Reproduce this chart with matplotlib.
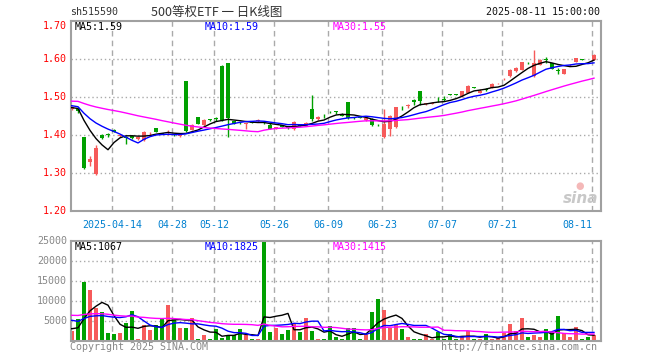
import numpy as np
import matplotlib
matplotlib.use("Agg")
import matplotlib.pyplot as plt

# ---------------- data ----------------
open_ = [1.468, 1.468, 1.395, 1.328, 1.298, 1.400, 1.402, 1.414, 1.397, 1.396,
         1.397, 1.389, 1.386, 1.404, 1.418, 1.404, 1.404, 1.401, 1.398, 1.543,
         1.414, 1.448, 1.426, 1.441, 1.444, 1.582, 1.589, 1.437, 1.432, 1.430,
         1.437, 1.436, 1.432, 1.427, 1.416, 1.425, 1.423, 1.417, 1.429, 1.425,
         1.468, 1.442, 1.451, 1.463, 1.462, 1.456, 1.486, 1.446, 1.447, 1.440,
         1.443, 1.427, 1.395, 1.417, 1.421, 1.472, 1.476, 1.493, 1.517, 1.481,
         1.482, 1.490, 1.494, 1.507, 1.507, 1.502, 1.511, 1.526, 1.511, 1.520,
         1.525, 1.534, 1.547, 1.554, 1.569, 1.572, 1.590, 1.556, 1.585, 1.599,
         1.589, 1.570, 1.561, 1.583, 1.593, 1.599, 1.592, 1.598]
high = [1.476, 1.472, 1.396, 1.346, 1.374, 1.403, 1.405, 1.416, 1.400, 1.398,
        1.401, 1.396, 1.410, 1.409, 1.419, 1.405, 1.412, 1.402, 1.402, 1.543,
        1.428, 1.448, 1.442, 1.442, 1.447, 1.583, 1.590, 1.438, 1.433, 1.431,
        1.438, 1.442, 1.434, 1.433, 1.421, 1.426, 1.424, 1.436, 1.430, 1.433,
        1.506, 1.450, 1.454, 1.463, 1.462, 1.457, 1.486, 1.447, 1.448, 1.447,
        1.444, 1.428, 1.469, 1.452, 1.475, 1.477, 1.482, 1.494, 1.517, 1.485,
        1.486, 1.500, 1.502, 1.508, 1.508, 1.516, 1.531, 1.527, 1.522, 1.523,
        1.536, 1.536, 1.549, 1.573, 1.578, 1.592, 1.591, 1.625, 1.600, 1.604,
        1.590, 1.576, 1.575, 1.586, 1.603, 1.600, 1.593, 1.614]
low = [1.466, 1.458, 1.310, 1.318, 1.296, 1.389, 1.396, 1.407, 1.396, 1.377,
       1.389, 1.388, 1.384, 1.400, 1.407, 1.402, 1.400, 1.398, 1.396, 1.408,
       1.412, 1.429, 1.424, 1.438, 1.438, 1.438, 1.395, 1.428, 1.428, 1.416,
       1.431, 1.435, 1.429, 1.416, 1.415, 1.420, 1.416, 1.414, 1.424, 1.424,
       1.436, 1.440, 1.446, 1.459, 1.456, 1.450, 1.443, 1.443, 1.444, 1.438,
       1.424, 1.424, 1.392, 1.397, 1.419, 1.465, 1.471, 1.480, 1.480, 1.479,
       1.481, 1.487, 1.490, 1.504, 1.504, 1.500, 1.510, 1.524, 1.510, 1.515,
       1.524, 1.533, 1.545, 1.552, 1.567, 1.571, 1.588, 1.552, 1.584, 1.590,
       1.574, 1.561, 1.560, 1.582, 1.592, 1.597, 1.590, 1.597]
close = [1.474, 1.464, 1.313, 1.337, 1.365, 1.391, 1.400, 1.408, 1.399, 1.391,
         1.392, 1.395, 1.409, 1.406, 1.409, 1.403, 1.407, 1.399, 1.401, 1.410,
         1.426, 1.430, 1.439, 1.440, 1.442, 1.440, 1.445, 1.430, 1.431, 1.431,
         1.432, 1.440, 1.431, 1.417, 1.420, 1.421, 1.418, 1.435, 1.425, 1.432,
         1.442, 1.448, 1.450, 1.462, 1.461, 1.451, 1.444, 1.445, 1.446, 1.446,
         1.427, 1.426, 1.430, 1.451, 1.474, 1.470, 1.478, 1.487, 1.490, 1.483,
         1.484, 1.489, 1.493, 1.506, 1.506, 1.515, 1.528, 1.525, 1.517, 1.519,
         1.535, 1.535, 1.548, 1.572, 1.576, 1.591, 1.589, 1.589, 1.598, 1.598,
         1.574, 1.569, 1.574, 1.585, 1.602, 1.598, 1.591, 1.610]
volume = [2340, 5350, 14630, 12620, 8190, 7100, 1840, 1590, 1840, 4350,
          7360, 330, 4010, 2590, 3850, 5600, 8860, 5100, 3090, 3090,
          5600, 330, 1420, 330, 2840, 670, 1340, 1500, 2840, 1500,
          330, 330, 24750, 2090, 3090, 1590, 2590, 4350, 2090, 5600,
          2340, 330, 330, 3590, 920, 330, 3090, 3090, 330, 1590,
          7100, 10370, 7600, 3090, 3850, 2930, 920, 330, 330, 1670,
          330, 2090, 330, 1590, 330, 1090, 2340, 330, 330, 1590,
          330, 670, 1920, 4100, 2340, 5600, 920, 1340, 920, 2840,
          2090, 6100, 1920, 920, 3340, 330, 920, 1340]
# closes / volumes of the 29 sessions before the window (for the moving averages)
prev_close = [1.478, 1.482, 1.487, 1.490, 1.494, 1.497, 1.492, 1.488, 1.495, 1.500,
              1.505, 1.503, 1.498, 1.502, 1.506, 1.500, 1.495, 1.492, 1.497, 1.499,
              1.490, 1.485, 1.480, 1.478, 1.477, 1.475, 1.470, 1.468, 1.473]
prev_volume = [6500, 7200, 8100, 6800, 7400, 6200, 7900, 6600, 7100, 6900,
               7600, 6400, 7300, 6700, 7000, 6800, 7500, 6300, 6900, 6300,
               8000, 7600, 7200, 6800, 6400, 4200, 3300, 2800, 2360]
tick_index = [7, 17, 24, 34, 43, 52, 62, 72, 87]
tick_labels = ["2025-04-14", "04-28", "05-12", "05-26", "06-09", "06-23",
               "07-07", "07-21", "08-11"]
price_ticks = [1.70, 1.60, 1.50, 1.40, 1.30, 1.20]
volume_ticks = [25000, 20000, 15000, 10000, 5000]
ma_periods = [5, 10, 30]
price_ma_text = ["MA5:1.59", "MA10:1.59", "MA30:1.55"]
volume_ma_text = ["MA5:1067", "MA10:1825", "MA30:1415"]

# ---------------- style ----------------
RED = '#F65A5A'
GREEN = '#00A000'
MA_COLORS = ['#000000', '#0000FF', '#FF00FF']
GRID = '#AAAAAA'
FRAME = '#A0A0A0'
MONO = 'DejaVu Sans Mono'
FS = 7.2

W, H = 660, 360
fig = plt.figure(figsize=(6.6, 3.6), dpi=100)
fig.patch.set_facecolor('white')


def fx(px):
    return px / W


def fy(py):
    return 1 - py / H


L, R = 70.5, 600.5
PT, PB = 21.0, 211.0
VT, VB = 240.7, 340.7
ax = fig.add_axes([fx(L), fy(PB), (R - L) / W, (PB - PT) / H])
axv = fig.add_axes([fx(L), fy(VB), (R - L) / W, (VB - VT) / H])

o = np.array(open_)
h = np.array(high)
l = np.array(low)
c = np.array(close)
v = np.array(volume, dtype=float)
n = len(c)
x = np.arange(n)
cols = [RED if cc >= oo else GREEN for oo, cc in zip(o, c)]

xmin, xmax = (L - 72) / 6.0, (R - 72) / 6.0
for a in (ax, axv):
    a.set_xlim(xmin, xmax)
    a.set_xticks([])
    a.set_yticks([])
    for s in a.spines.values():
        s.set_color(FRAME)
        s.set_linewidth(1.5)
    for t in tick_index:
        a.axvline(t - 0.3, color=GRID, lw=1, ls=(0, (4, 3)), zorder=0)

ax.set_ylim(1.20, 1.70)
for p in price_ticks[1:-1]:
    ax.axhline(p, color=GRID, lw=1, ls=(0, (1, 2)), zorder=0)
axv.set_ylim(0, 25000)
for vt in volume_ticks[1:]:
    axv.axhline(vt, color=GRID, lw=1, ls=(0, (1, 2)), zorder=0)

# candles
ax.vlines(x, l, h, colors=cols, lw=1, zorder=2)
ax.bar(x, np.maximum(np.abs(c - o), 0.0013), bottom=np.minimum(o, c),
       width=0.68, color=cols, linewidth=0, zorder=3)

# moving averages
allc = np.concatenate([prev_close, c])
allv = np.concatenate([prev_volume, v])
k0 = len(prev_close)
for per, col in zip(ma_periods, MA_COLORS):
    mac = np.array([allc[k0 + i - per + 1:k0 + i + 1].mean() for i in range(n)])
    mav = np.array([allv[k0 + i - per + 1:k0 + i + 1].mean() for i in range(n)])
    xs = np.concatenate([[xmin], x])
    ax.plot(xs, np.concatenate([[mac[0]], mac]), color=col, lw=1, zorder=4)
    axv.plot(xs, np.concatenate([[mav[0]], mav]), color=col, lw=1, zorder=4)

# volume bars
axv.bar(x, v, width=0.82, color=cols, linewidth=0, zorder=2)

# ---------------- text ----------------
tk = dict(family=MONO, fontsize=FS)
fig.text(fx(70), fy(12), "sh515590", color='#333333', va='center', **tk)
fig.text(fx(151), fy(12), "500等权ETF 一 日K线图", color='#333333', va='center',
         family=['Noto Sans CJK SC', 'DejaVu Sans'], fontsize=9)
fig.text(fx(600), fy(12), "2025-08-11 15:00:00", color='#111111', ha='right',
         va='center', **tk)

for p in price_ticks:
    yy = PB - (p - 1.20) / 0.50 * (PB - PT)
    if p == price_ticks[0]:
        yy += 5
    fig.text(fx(67), fy(yy), f"{p:.2f}", color='#FF0000', ha='right',
             va='center', **tk)
for vt in volume_ticks:
    yy = VB - vt / 25000 * (VB - VT)
    fig.text(fx(67), fy(yy), f"{vt}", color='#888888', ha='right',
             va='center', **tk)

legend_x = [75, 205, 333]
for txt, col, lx in zip(price_ma_text, MA_COLORS, legend_x):
    fig.text(fx(lx), fy(26.5), txt, color=col, va='center', **tk)
for txt, col, lx in zip(volume_ma_text, MA_COLORS, legend_x):
    fig.text(fx(lx), fy(246.5), txt, color=col, va='center', **tk)

for t, lab in zip(tick_index, tick_labels):
    px = 72 + 6 * (t - 0.3)
    if t == tick_index[-1]:
        fig.text(fx(px), fy(225), lab, color='#0080D0', ha='right', va='center', **tk)
    else:
        fig.text(fx(px), fy(225), lab, color='#0080D0', ha='center', va='center', **tk)

fig.text(fx(70), fy(347), "Copyright 2025 SINA.COM", color='#888888',
         va='center', **tk)
fig.text(fx(597), fy(347), "http://finance.sina.com.cn", color='#888888',
         ha='right', va='center', **tk)

# sina watermark
fig.text(fx(598), fy(198), "sina", color='#C8C8C8', ha='right', va='center',
         family='DejaVu Sans', fontsize=11, fontweight='bold', style='italic')
fig.text(fx(580), fy(186), "●", color='#F4B8B8', ha='center', va='center',
         family='DejaVu Sans', fontsize=7)

fig.savefig("out.png", dpi=100, facecolor='white')
